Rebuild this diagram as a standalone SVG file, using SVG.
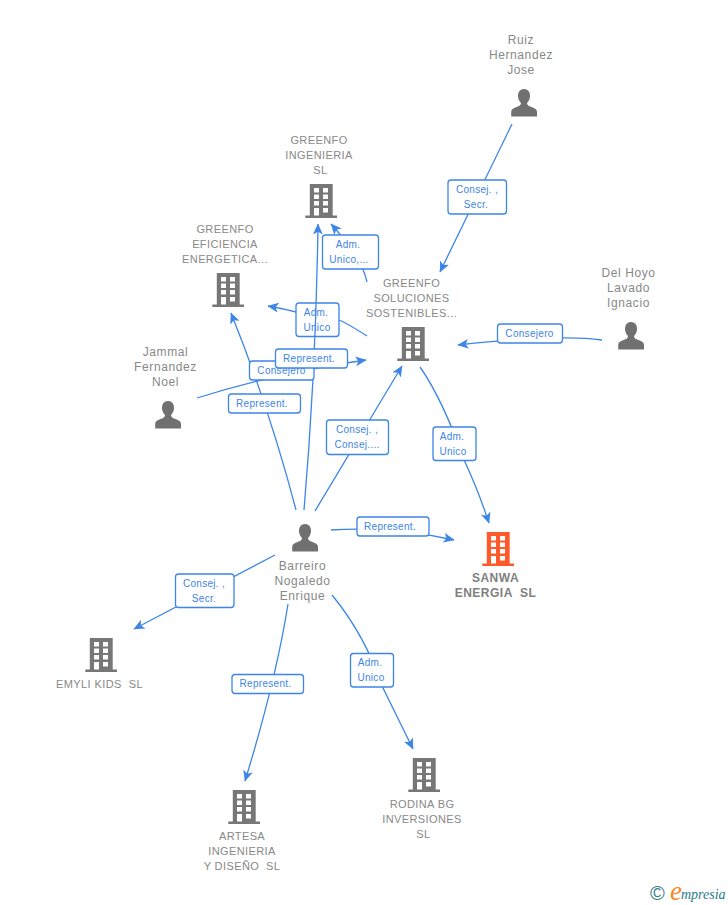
<svg xmlns="http://www.w3.org/2000/svg" width="728" height="905" viewBox="0 0 728 905">
<style>
text{font-family:"Liberation Sans",Arial,sans-serif;white-space:pre}
.n{font-size:11px;fill:#888;text-anchor:middle;letter-spacing:.4px}
.p{font-size:12px;letter-spacing:.6px}
.b{font-weight:bold;font-size:12px;letter-spacing:.5px;fill:#808080}
.l{font-size:10px;fill:#3d85e6;text-anchor:middle;letter-spacing:.3px}
.c{fill:none;stroke:#3d85e6;stroke-width:1.3}
.r{fill:#fff;stroke:#3d85e6;stroke-width:1.3}
</style>
<defs>
<marker id="a" viewBox="0 0 10 10" refX="9.500" refY="5" markerWidth="11" markerHeight="11" markerUnits="userSpaceOnUse" orient="auto"><path d="M0 0.500L10 5L0 9.500L2.500 5Z" fill="#3d85e6"/></marker>
<symbol id="bld" viewBox="0 0 32 34" width="32" height="34" overflow="visible">
<path fill-rule="evenodd" d="M4.800 0H27.700V31.500H32V34H0.300V31.500H4.800ZM9 4V8.500H14V4ZM18 4V8.500H23V4ZM9 10.500V15H14V10.500ZM18 10.500V15H23V10.500ZM9 17V21.500H14V17ZM18 17V21.500H23V17ZM9 24V31.500H14V24ZM18 24V28.500H23V24Z" fill="currentColor"/>
</symbol>
<symbol id="psn" viewBox="0 0 28 29" width="28" height="29" overflow="visible">
<path d="M14 1C10 1 8 4 8 8C8 11 9.500 13.500 11 15C11 17 9.500 18 6.500 19C3 20.200 1.200 21.500 1.200 24V28.500H27V24C27 21.500 25 20.200 21.500 19C18.500 18 17 17 17 15C18.500 13.500 20 11 20 8C20 4 18 1 14 1Z" fill="#707070"/>
</symbol>
</defs>
<rect width="728" height="905" fill="#fff"/>
<g id="label-under">
<g><rect class="r" x="296" y="303" width="43" height="33.500" rx="3"/><text class="l" x="316" y="316">Adm.</text><text class="l" x="317" y="331">Unico</text></g>
</g>
<g id="connectors">
<path class="c" d="M512 124L440 272" marker-end="url(#a)"/>
<path class="c" d="M602 340Q560 334 458 345" marker-end="url(#a)"/>
<path class="c" d="M367 282Q362 258 331 224" marker-end="url(#a)"/>
<path class="c" d="M367 336Q345 322 339 320M296 312Q280 308 268 306" marker-end="url(#a)"/>
<path class="c" d="M197 398Q280 372 366 360" marker-end="url(#a)"/>
<path class="c" d="M420 367Q442 398 465 462Q478 490 489 523" marker-end="url(#a)"/>
<path class="c" d="M296 510Q270 410 231 313" marker-end="url(#a)"/>
<path class="c" d="M304 510Q316 370 318 224" marker-end="url(#a)"/>
<path class="c" d="M315 511L402 366" marker-end="url(#a)"/>
<path class="c" d="M331 530Q390 526 454 540" marker-end="url(#a)"/>
<path class="c" d="M275 555L134 629" marker-end="url(#a)"/>
<path class="c" d="M288 604Q276 680 245 781" marker-end="url(#a)"/>
<path class="c" d="M332 595Q365 635 383 688L413 749" marker-end="url(#a)"/>
</g>
<g id="labels">
<g><rect class="r" x="448" y="180" width="58.500" height="34" rx="3"/><text class="l" x="477" y="193">Consej. ,</text><text class="l" x="476" y="208">Secr.</text></g>
<g><rect class="r" x="497.500" y="324" width="65" height="19" rx="3"/><text class="l" x="529.500" y="337">Consejero</text></g>
<g><rect class="r" x="322.500" y="235" width="56" height="34" rx="3"/><text class="l" x="348" y="248">Adm.</text><text class="l" x="349" y="263">Unico,...</text></g>
<g><rect class="r" x="249.500" y="361" width="64.500" height="19" rx="3"/><text class="l" x="281.500" y="374">Consejero</text></g>
<g><rect class="r" x="275.500" y="349" width="72" height="19" rx="3"/><text class="l" x="309" y="362">Represent.</text></g>
<g><rect class="r" x="228.500" y="394" width="72" height="19" rx="3"/><text class="l" x="262" y="407">Represent.</text></g>
<g><rect class="r" x="326.500" y="420" width="62" height="34.500" rx="3"/><text class="l" x="357" y="433">Consej. ,</text><text class="l" x="357" y="448">Consej....</text></g>
<g><rect class="r" x="433" y="427" width="43" height="33.500" rx="3"/><text class="l" x="452" y="440">Adm.</text><text class="l" x="453" y="455">Unico</text></g>
<g><rect class="r" x="357" y="517" width="72" height="19" rx="3"/><text class="l" x="390" y="530">Represent.</text></g>
<g><rect class="r" x="175.500" y="574" width="58.500" height="33.500" rx="3"/><text class="l" x="204" y="587">Consej. ,</text><text class="l" x="204" y="602">Secr.</text></g>
<g><rect class="r" x="232" y="674.500" width="71.500" height="19" rx="3"/><text class="l" x="265.500" y="687">Represent.</text></g>
<g><rect class="r" x="350.500" y="653.500" width="43" height="33.500" rx="3"/><text class="l" x="370" y="666">Adm.</text><text class="l" x="371" y="681">Unico</text></g>
</g>
<g id="n-ruiz"><text class="n p" x="521" y="44">Ruiz</text><text class="n p" x="521" y="59">Hernandez</text><text class="n p" x="521" y="74">Jose</text><use href="#psn" x="510" y="88"/></g>
<g id="n-delhoyo"><text class="n p" x="628.500" y="277">Del Hoyo</text><text class="n p" x="628.500" y="292">Lavado</text><text class="n p" x="628.500" y="307">Ignacio</text><use href="#psn" x="617" y="321"/></g>
<g id="n-jammal"><text class="n p" x="165.500" y="356">Jammal</text><text class="n p" x="165.500" y="371">Fernandez</text><text class="n p" x="165.500" y="386">Noel</text><use href="#psn" x="154" y="400"/></g>
<g id="n-barreiro"><use href="#psn" x="291" y="523"/><text class="n p" x="302.500" y="570">Barreiro</text><text class="n p" x="302.500" y="585">Nogaledo</text><text class="n p" x="302.500" y="600">Enrique</text></g>
<g id="n-ingenieria" color="#777"><text class="n" x="319" y="144">GREENFO</text><text class="n" x="319" y="159">INGENIERIA</text><text class="n" x="320.500" y="174">SL</text><use href="#bld" x="305" y="184"/></g>
<g id="n-eficiencia" color="#777"><text class="n" x="225" y="233">GREENFO</text><text class="n" x="225" y="248">EFICIENCIA</text><text class="n" x="225" y="263">ENERGETICA...</text><use href="#bld" x="212" y="273"/></g>
<g id="n-soluciones" color="#777"><text class="n" x="411.500" y="287">GREENFO</text><text class="n" x="411.500" y="302">SOLUCIONES</text><text class="n" x="411.500" y="317">SOSTENIBLES...</text><use href="#bld" x="397" y="327"/></g>
<g id="n-sanwa" color="#ff5a2c"><use href="#bld" x="482" y="532"/><text class="n b" x="495.500" y="582">SANWA</text><text class="n b" x="495.500" y="597">ENERGIA  SL</text></g>
<g id="n-emyli" color="#777"><use href="#bld" x="85" y="638"/><text class="n" x="99.500" y="688">EMYLI KIDS  SL</text></g>
<g id="n-artesa" color="#777"><use href="#bld" x="228" y="790"/><text class="n" x="242" y="840">ARTESA</text><text class="n" x="242" y="855">INGENIERIA</text><text class="n" x="242" y="870">Y DISEÑO  SL</text></g>
<g id="n-rodina" color="#777"><use href="#bld" x="408" y="758"/><text class="n" x="422" y="808">RODINA BG</text><text class="n" x="422" y="823">INVERSIONES</text><text class="n" x="423.500" y="838">SL</text></g>
<g id="logo"><text x="650" y="900" font-size="20" fill="#3a7a8c">©</text><text x="670" y="900" font-size="27" font-style="italic" style="font-family:'Liberation Serif',serif" fill="#f58a1f">e</text><text x="681" y="899" font-size="14" font-style="italic" style="font-family:'Liberation Serif',serif" fill="#1f7a8c">mpresia</text></g>
</svg>
